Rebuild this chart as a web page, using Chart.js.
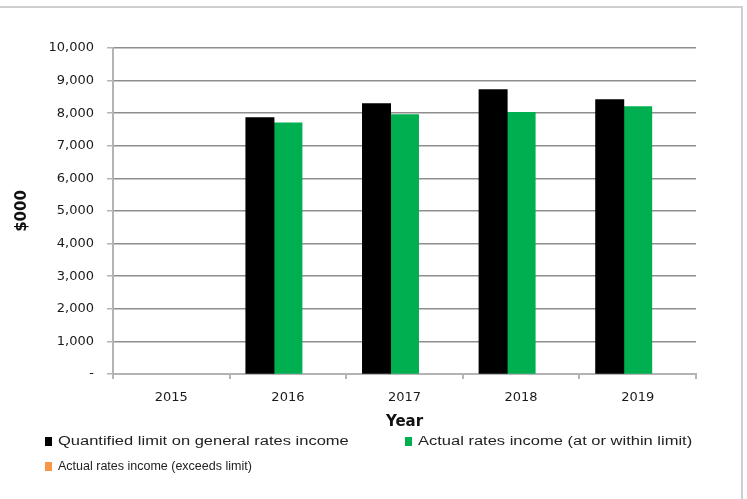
<!DOCTYPE html>
<html>
<head>
<meta charset="utf-8">
<script src="https://cdn.jsdelivr.net/npm/chart.js@4/dist/chart.umd.min.js"></script>
<style>
    html, body { margin: 0; padding: 0; background: #fff; }
    #wrap { position: relative; width: 747px; height: 499px; overflow: hidden; }
    #frame { position: absolute; left: -8px; top: 6px; width: 751px; height: 520px; border: 2px solid #cfcfcf; box-sizing: border-box; }
    canvas { position: absolute; left: 0; top: 0; }
    .key { position: absolute; font-family: "Liberation Sans", Arial, sans-serif; font-size: 12.5px; color: #222; white-space: nowrap; }
    .key i { position: absolute; left: 0; top: 3px; width: 7px; height: 9px; }
    .key span { position: absolute; left: 13px; top: 0; transform-origin: left center; }
    .wide span { transform: scaleX(1.32); }
</style>
</head>
<body>
<div id="wrap">
    <div id="frame"></div>
    <canvas id="ratesChart" width="747" height="499"></canvas>
    <div id="legend"></div>
</div>
<script>
//----------------------------- Data -----------------------------------
const years = ['2015', '2016', '2017', '2018', '2019'];
const quantifiedLimit = [null, 7860, 8290, 8720, 8410];
const actualWithin = [null, 7700, 7950, 8020, 8200];
const actualExceeds = [null, null, null, null, null];
const yTicks = [0, 1000, 2000, 3000, 4000, 5000, 6000, 7000, 8000, 9000, 10000];

const seriesNames = [
    'Quantified limit on general rates income',
    'Actual rates income (at or within limit)',
    'Actual rates income (exceeds limit)'
];
const seriesColors = ['#000000', '#00b050', '#f79646'];

const fontColor = '#1a1a1a';
const gridColor = '#8e8e8e';
const axisColor = '#b4b4b4';

//----------------------------- Chart -----------------------------------
const ctx = document.getElementById('ratesChart');
const config = {
    type: 'bar',
    data: {
        labels: years,
        datasets: [
            { label: seriesNames[0], data: quantifiedLimit, backgroundColor: seriesColors[0], inflateAmount: 0.5 },
            { label: seriesNames[1], data: actualWithin, backgroundColor: seriesColors[1], inflateAmount: 0.5 },
            { label: seriesNames[2], data: actualExceeds, backgroundColor: seriesColors[2] }
        ]
    },
    options: {
        responsive: false,
        animation: false,
        layout: {
            padding: { top: 48, right: 51, bottom: 67, left: 0 }
        },
        datasets: {
            bar: {
                categoryPercentage: 0.72,
                barPercentage: 1.0
            }
        },
        plugins: {
            legend: { display: false },
            tooltip: { mode: 'index', intersect: false }
        },
        scales: {
            x: {
                afterFit: scale => { scale.height = 58; },
                grid: {
                    drawOnChartArea: false,
                    offset: true,
                    color: axisColor,
                    lineWidth: 2,
                    tickLength: 5
                },
                border: { color: axisColor, width: 2 },
                ticks: {
                    color: fontColor,
                    padding: 11,
                    font: { family: 'DejaVu Sans', size: 13 }
                },
                title: {
                    display: true,
                    text: 'Year',
                    color: '#111',
                    padding: { top: 0, bottom: 1 },
                    font: { family: 'DejaVu Sans', size: 15, weight: 'bold' }
                }
            },
            y: {
                min: 0,
                max: 10000,
                afterFit: scale => { scale.width = 113; },
                afterBuildTicks: scale => { scale.ticks = yTicks.map(v => ({ value: v })); },
                grid: {
                    color: gridColor,
                    lineWidth: 1.5,
                    tickLength: 6,
                    tickColor: axisColor
                },
                border: { color: axisColor, width: 2 },
                ticks: {
                    color: fontColor,
                    padding: 13,
                    font: { family: 'DejaVu Sans', size: 13 },
                    callback: value => value === 0 ? '-' : value.toLocaleString('en-US')
                },
                title: {
                    display: true,
                    text: '$000',
                    color: '#111',
                    padding: { top: 13, bottom: 0 },
                    font: { family: 'DejaVu Sans', size: 15, weight: 'bold' }
                }
            }
        }
    }
};
window.ratesChartInstance = new Chart(ctx, config);

//----------------------------- Legend -----------------------------------
const legendSpots = [
    { left: 45, top: 434, wide: true },
    { left: 405, top: 434, wide: true },
    { left: 45, top: 459, wide: false }
];
const legend = document.getElementById('legend');
seriesNames.forEach((name, i) => {
    const item = document.createElement('div');
    item.className = 'key' + (legendSpots[i].wide ? ' wide' : '');
    item.style.left = legendSpots[i].left + 'px';
    item.style.top = legendSpots[i].top + 'px';
    item.innerHTML = '<i style="background:' + seriesColors[i] + '"></i><span>' + name + '</span>';
    legend.appendChild(item);
});
</script>
</body>
</html>
